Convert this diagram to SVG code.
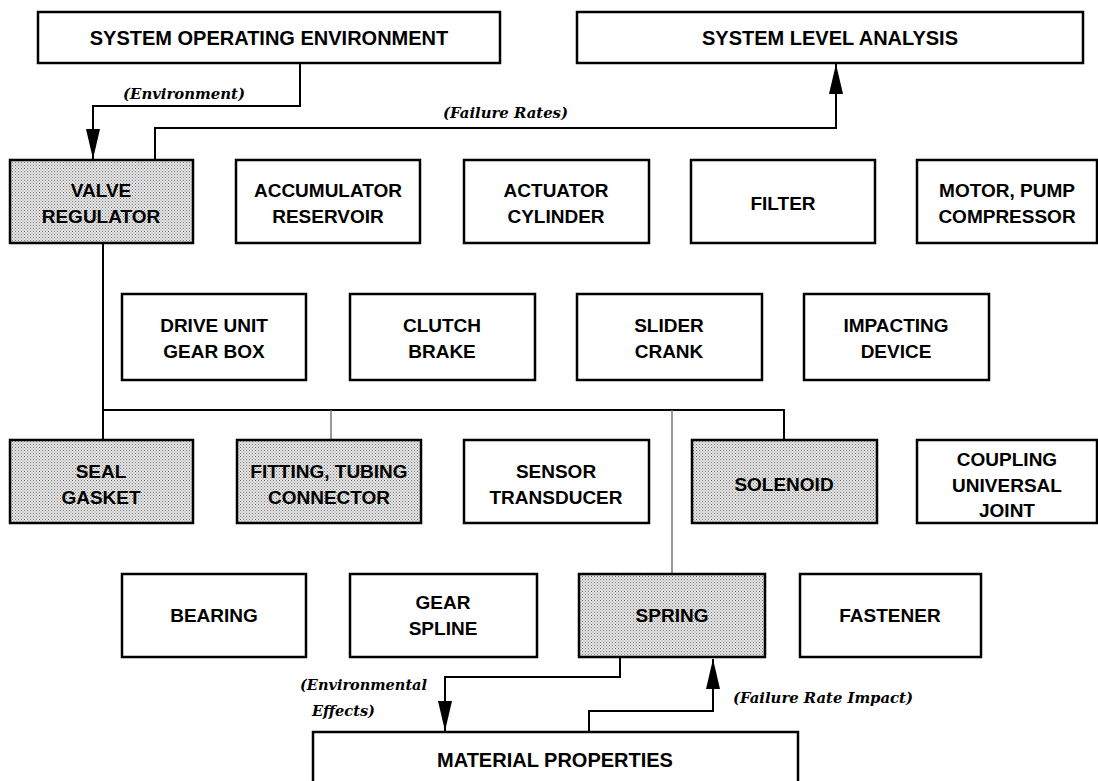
<svg xmlns="http://www.w3.org/2000/svg" width="1098" height="781" viewBox="0 0 1098 781">
<style>
.box{fill:#fff;stroke:#000;stroke-width:2.5}
.sh{fill:url(#dots);stroke:#000;stroke-width:2.5}
.t{font-family:"Liberation Sans",Arial,sans-serif;font-weight:bold;font-size:19px;text-anchor:middle;fill:#000}
.big{font-size:20px}
.lab{font-family:"DejaVu Serif","Liberation Serif",serif;font-weight:bold;font-style:italic;font-size:15px;fill:#000}
.ln{fill:none;stroke:#000;stroke-width:2}
.gl{fill:none;stroke:#777;stroke-width:1.5}
</style>
<defs>
<pattern id="dots" width="3" height="3" patternUnits="userSpaceOnUse">
<rect width="3" height="3" fill="#e6e6e6"/>
<rect x="0" y="0" width="1" height="1" fill="#777"/>
<rect x="1.5" y="1.5" width="1" height="1" fill="#8a8a8a"/>
</pattern>
<marker id="ah" markerWidth="30" markerHeight="14" refX="30" refY="7" orient="auto" markerUnits="userSpaceOnUse" viewBox="0 0 30 14">
<path d="M0,0 L30,7 L0,14 Z" fill="#000"/>
</marker>
</defs>
<g id="connectors">
<polyline class="ln" points="300,63 300,106 93,106 93,159" marker-end="url(#ah)"/>
<polyline class="ln" points="155,160 155,128 836,128 836,64" marker-end="url(#ah)"/>
<polyline class="ln" points="103,243 103,410 784,410 784,440"/>
<line class="ln" x1="103" y1="410" x2="103" y2="440"/>
<line class="gl" x1="331" y1="410" x2="331" y2="440"/>
<line class="gl" x1="672" y1="410" x2="672" y2="574"/>
<polyline class="ln" points="620,657 620,677 445,677 445,731" marker-end="url(#ah)"/>
<polyline class="ln" points="589,732 589,711 713,711 713,659" marker-end="url(#ah)"/>
<text class="lab" x="123" y="99" textLength="122" lengthAdjust="spacingAndGlyphs">(Environment)</text>
<text class="lab" x="443" y="118" textLength="125" lengthAdjust="spacingAndGlyphs">(Failure Rates)</text>
<text class="lab" x="300" y="690" textLength="127" lengthAdjust="spacingAndGlyphs">(Environmental</text>
<text class="lab" x="312" y="716" textLength="63" lengthAdjust="spacingAndGlyphs">Effects)</text>
<text class="lab" x="733" y="703" textLength="180" lengthAdjust="spacingAndGlyphs">(Failure Rate Impact)</text>
</g>
<g id="n-soe"><rect class="box" x="38" y="12" width="462" height="51"/><text class="t big" x="269" y="45">SYSTEM OPERATING ENVIRONMENT</text></g>
<g id="n-sla"><rect class="box" x="577" y="12" width="506" height="51"/><text class="t big" x="830" y="45">SYSTEM LEVEL ANALYSIS</text></g>
<g id="n-valve"><rect class="sh" x="10" y="160" width="183" height="83"/><text class="t" x="101" y="197">VALVE</text><text class="t" x="101" y="223">REGULATOR</text></g>
<g id="n-accum"><rect class="box" x="236" y="160" width="184" height="83"/><text class="t" x="328" y="197">ACCUMULATOR</text><text class="t" x="328" y="223">RESERVOIR</text></g>
<g id="n-actuator"><rect class="box" x="464" y="160" width="185" height="83"/><text class="t" x="556" y="197">ACTUATOR</text><text class="t" x="556" y="223">CYLINDER</text></g>
<g id="n-filter"><rect class="box" x="691" y="160" width="184" height="83"/><text class="t" x="783" y="210">FILTER</text></g>
<g id="n-motor"><rect class="box" x="917" y="160" width="180" height="83"/><text class="t" x="1007" y="197">MOTOR, PUMP</text><text class="t" x="1007" y="223">COMPRESSOR</text></g>
<g id="n-drive"><rect class="box" x="122" y="294" width="184" height="86"/><text class="t" x="214" y="332">DRIVE UNIT</text><text class="t" x="214" y="358">GEAR BOX</text></g>
<g id="n-clutch"><rect class="box" x="350" y="294" width="185" height="86"/><text class="t" x="442" y="332">CLUTCH</text><text class="t" x="442" y="358">BRAKE</text></g>
<g id="n-slider"><rect class="box" x="577" y="294" width="185" height="86"/><text class="t" x="669" y="332">SLIDER</text><text class="t" x="669" y="358">CRANK</text></g>
<g id="n-impact"><rect class="box" x="804" y="294" width="185" height="86"/><text class="t" x="896" y="332">IMPACTING</text><text class="t" x="896" y="358">DEVICE</text></g>
<g id="n-seal"><rect class="sh" x="10" y="440" width="183" height="83"/><text class="t" x="101" y="478">SEAL</text><text class="t" x="101" y="504">GASKET</text></g>
<g id="n-fitting"><rect class="sh" x="237" y="440" width="184" height="83"/><text class="t" x="329" y="478">FITTING, TUBING</text><text class="t" x="329" y="504">CONNECTOR</text></g>
<g id="n-sensor"><rect class="box" x="464" y="440" width="185" height="83"/><text class="t" x="556" y="478">SENSOR</text><text class="t" x="556" y="504">TRANSDUCER</text></g>
<g id="n-solenoid"><rect class="sh" x="692" y="440" width="185" height="83"/><text class="t" x="784" y="491">SOLENOID</text></g>
<g id="n-coupling"><rect class="box" x="917" y="440" width="180" height="83"/><text class="t" x="1007" y="466">COUPLING</text><text class="t" x="1007" y="492">UNIVERSAL</text><text class="t" x="1007" y="517">JOINT</text></g>
<g id="n-bearing"><rect class="box" x="122" y="574" width="184" height="83"/><text class="t" x="214" y="622">BEARING</text></g>
<g id="n-gear"><rect class="box" x="350" y="574" width="187" height="83"/><text class="t" x="443" y="609">GEAR</text><text class="t" x="443" y="635">SPLINE</text></g>
<g id="n-spring"><rect class="sh" x="579" y="574" width="186" height="83"/><text class="t" x="672" y="622">SPRING</text></g>
<g id="n-fastener"><rect class="box" x="800" y="574" width="181" height="83"/><text class="t" x="890" y="622">FASTENER</text></g>
<g id="n-material"><rect class="box" x="313" y="732" width="485" height="60"/><text class="t big" x="555" y="767">MATERIAL PROPERTIES</text></g>
</svg>
